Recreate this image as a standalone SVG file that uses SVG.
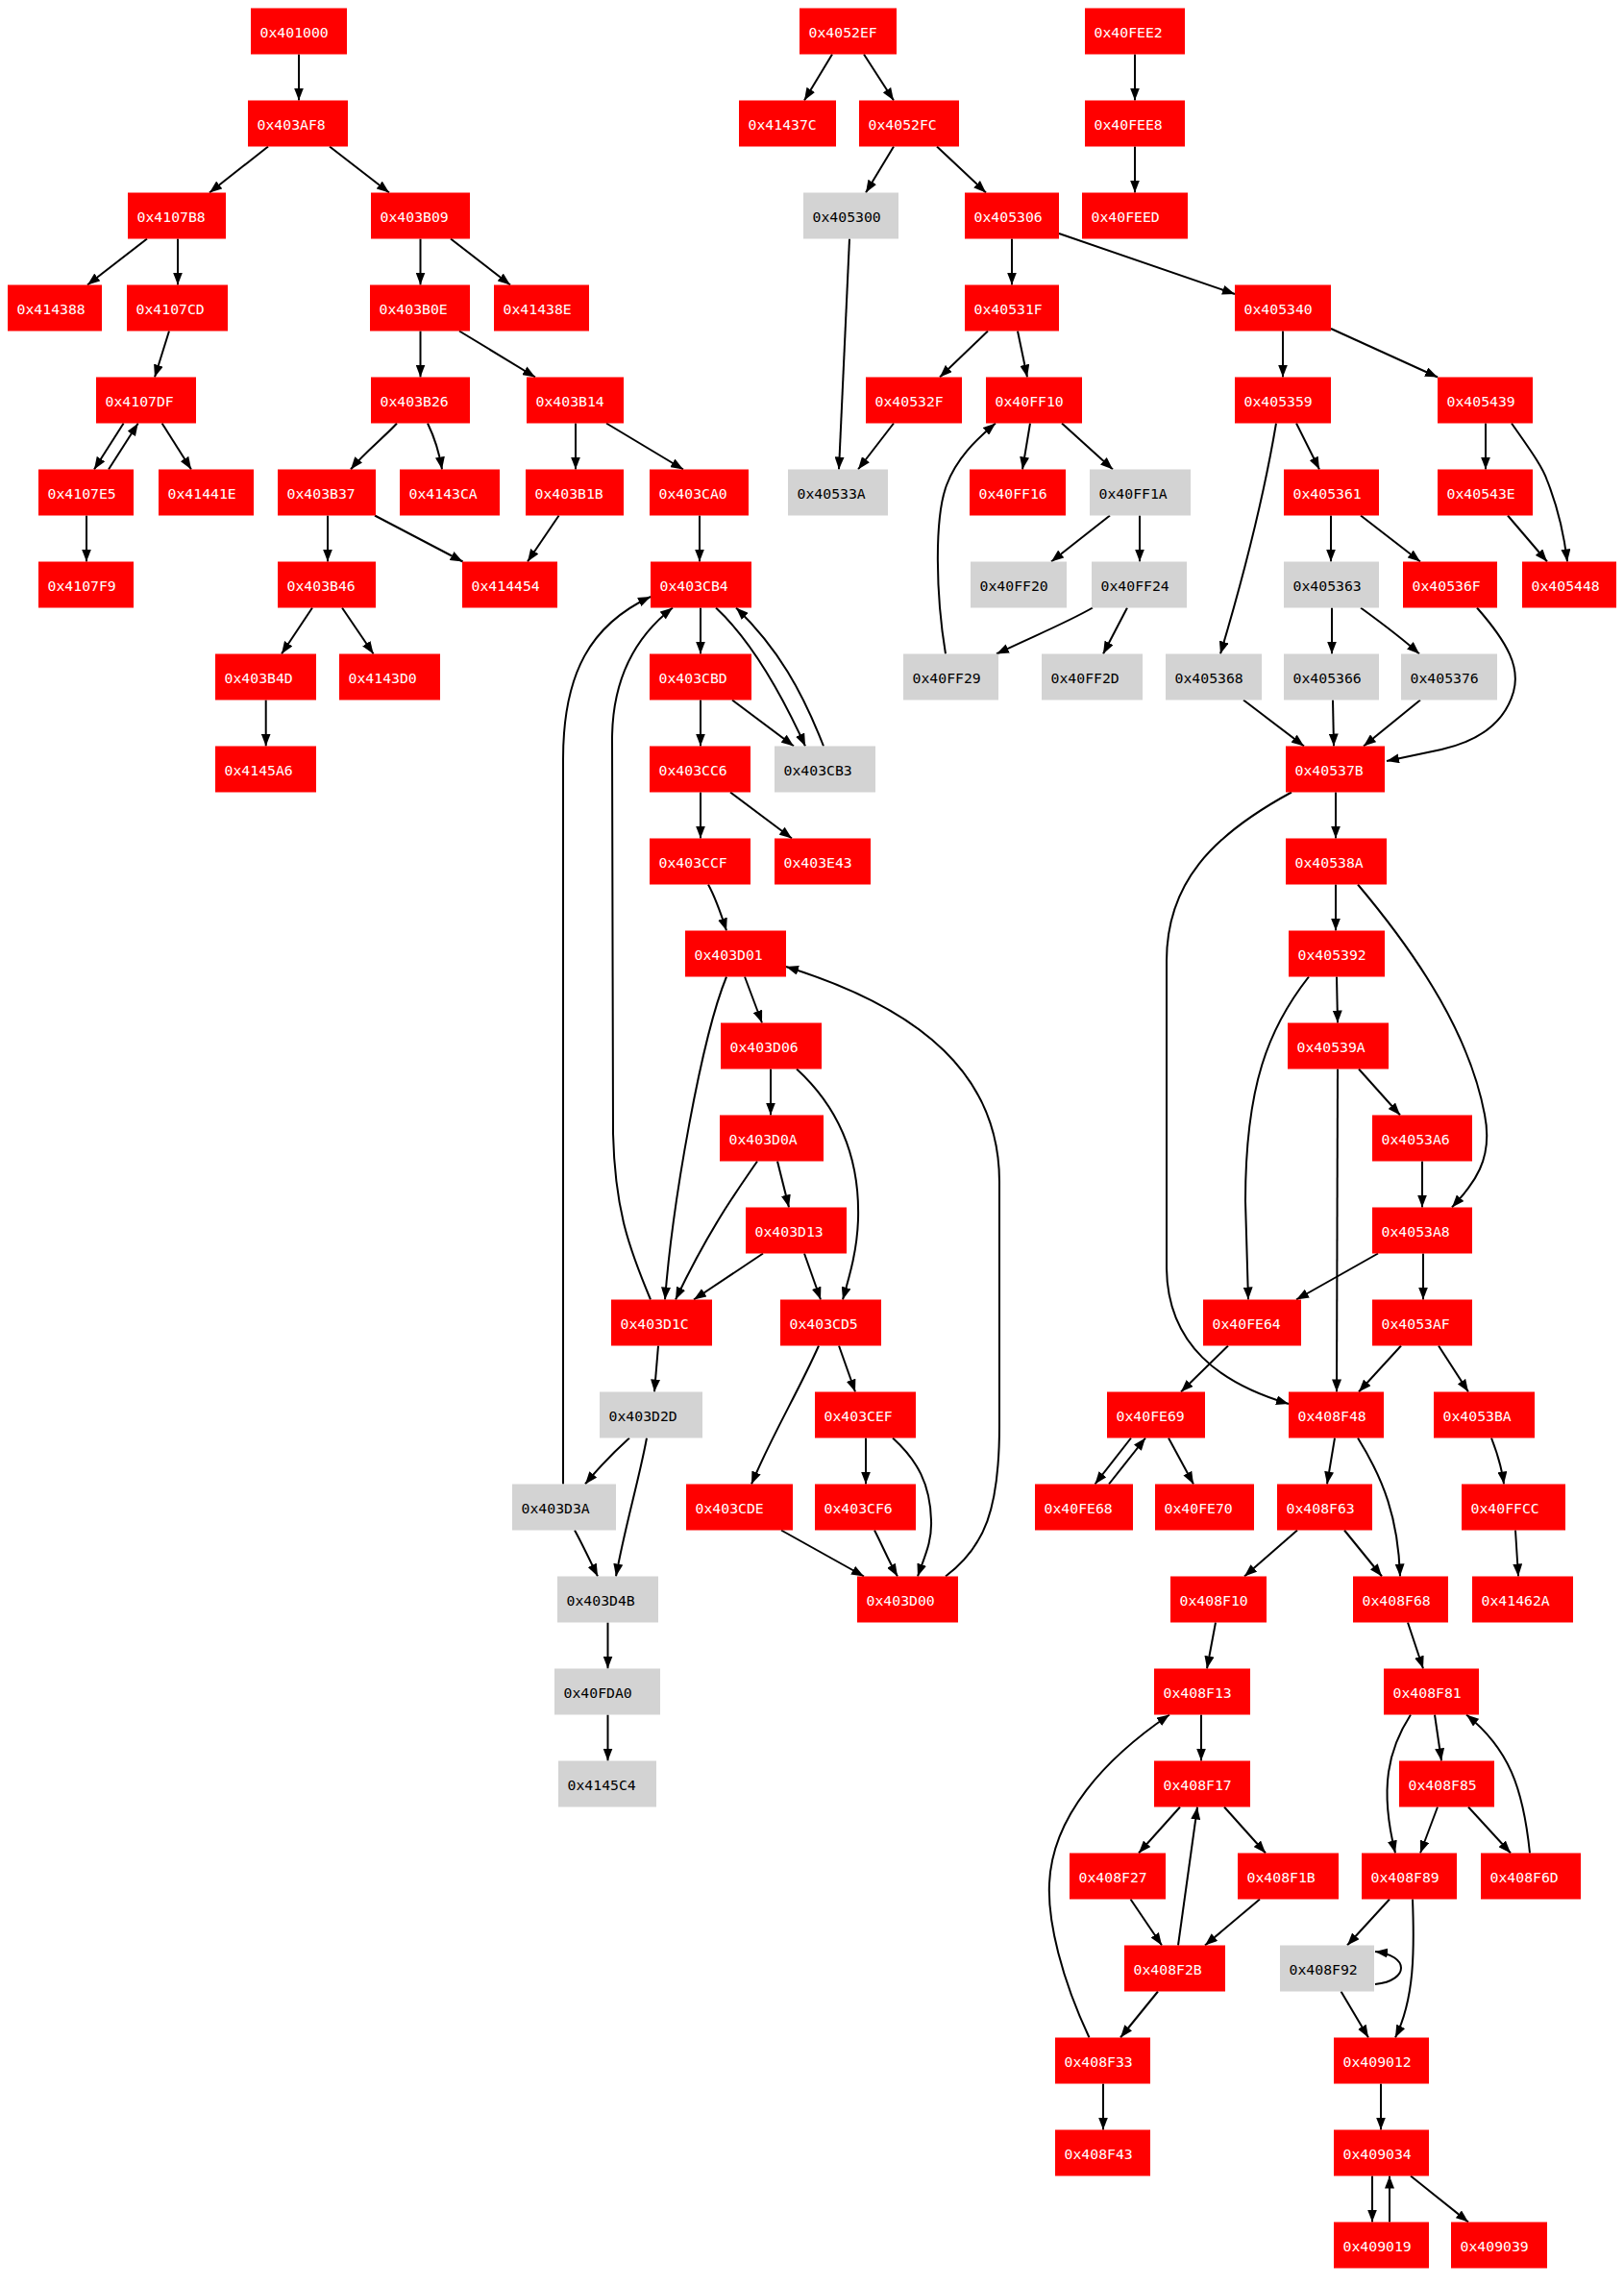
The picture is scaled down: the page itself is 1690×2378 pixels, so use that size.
<svg xmlns="http://www.w3.org/2000/svg" width="1690" height="2378" viewBox="0 0 1690 2378">
<style>
.r{fill:#ff0000}
.g{fill:#d3d3d3}
text{font-family:"DejaVu Sans Mono","Liberation Mono",monospace;font-size:14.8px}
.tw{fill:#ffffff}
.tb{fill:#000000}
#edges path{fill:none;stroke:#000;stroke-width:2;marker-end:url(#ah)}
</style>
<defs>
<marker id="ah" markerUnits="userSpaceOnUse" markerWidth="13" markerHeight="10" refX="13" refY="5" orient="auto">
<path d="M0,0 L13,5 L0,10 z" fill="#000"/>
</marker>
</defs>
<rect width="1690" height="2378" fill="#fff"/>
<g id="edges">
<path d="M311,56.5 L311,104.5"/>
<path d="M279,152.5 L218,200.5"/>
<path d="M343,152.5 L405,200.5"/>
<path d="M153,248.5 L91,296.5"/>
<path d="M185,248.5 L185,296.5"/>
<path d="M437.5,248.5 L437.5,296.5"/>
<path d="M469,248.5 L531,296.5"/>
<path d="M176,344.5 L161,392.5"/>
<path d="M437.5,344.5 L437.5,392.5"/>
<path d="M478,344.5 L557,392.5"/>
<path d="M128.6,440.5 L98,488.5"/>
<path d="M113,488.5 L143.7,440.5"/>
<path d="M168.6,440.5 L199,488.5"/>
<path d="M413,440.5 C400,455 380,470 365,488.5"/>
<path d="M445,440.5 C452,455 457,470 460,488.5"/>
<path d="M599,440.5 L599,488.5"/>
<path d="M631,440.5 L711,488.5"/>
<path d="M90,536.5 L90,584.5"/>
<path d="M341,536.5 L341,584.5"/>
<path d="M390,536.5 L481.6,584.5"/>
<path d="M581.6,536.5 L549,584.5"/>
<path d="M325,632.5 L293,680.5"/>
<path d="M356,632.5 L388.6,680.5"/>
<path d="M276.7,728.5 L276.7,776.5"/>
<path d="M728,536.5 L728,584.5"/>
<path d="M729,632.5 L729,680.5"/>
<path d="M745,632.5 C780,665 810,715 838,776.5"/>
<path d="M857,776.5 C835,720 810,675 766,632.5"/>
<path d="M762,728.5 L826,776.5"/>
<path d="M729,728.5 L729,776.5"/>
<path d="M729,824.5 L729,872.5"/>
<path d="M760,824.5 L824,872.5"/>
<path d="M737,920.5 C745,935 750,950 756,968.5"/>
<path d="M775,1016.5 L793,1064.5"/>
<path d="M756,1016.5 C730,1080 700,1250 692,1352.5"/>
<path d="M802,1112.5 L802,1160.5"/>
<path d="M829,1112.5 C870,1150 895,1200 893,1269 C892,1300 885,1325 877,1352.5"/>
<path d="M788,1208.5 C770,1235 740,1275 703,1352.5"/>
<path d="M809,1208.5 L821,1256.5"/>
<path d="M794,1304.5 L722,1352.5"/>
<path d="M837,1304.5 L854,1352.5"/>
<path d="M677,1352.5 C655,1300 640,1260 638,1180 L637,770 C637,705 662,662 700,632.5"/>
<path d="M586,1544.5 L586,790 C586,700 615,650 677,621"/>
<path d="M685,1400.5 L681,1448.5"/>
<path d="M655,1496.5 C640,1510 625,1525 609,1544.5"/>
<path d="M673,1496.5 C665,1540 650,1590 641,1640.5"/>
<path d="M598,1592.5 C605,1605 612,1620 622,1640.5"/>
<path d="M632.5,1688.5 L632.5,1736.5"/>
<path d="M632.5,1784.5 L632.5,1832.5"/>
<path d="M852,1400.5 C830,1450 805,1490 782,1544.5"/>
<path d="M873,1400.5 L890,1448.5"/>
<path d="M901,1496.5 L901,1544.5"/>
<path d="M929,1496.5 C955,1520 968,1545 969,1582 C970,1605 962,1620 955,1640.5"/>
<path d="M813,1592.5 L899,1640.5"/>
<path d="M910,1592.5 C918,1608 925,1625 934,1640.5"/>
<path d="M984,1640.5 C1025,1610 1040,1570 1040,1484 L1040,1230 C1040,1120 960,1050 818,1006"/>
<path d="M866,56.5 L837,104.5"/>
<path d="M899,56.5 L930,104.5"/>
<path d="M1181,56.5 L1181,104.5"/>
<path d="M1181,152.5 L1181,200.5"/>
<path d="M930,152.5 L901,200.5"/>
<path d="M975,152.5 L1026,200.5"/>
<path d="M884,248.5 L873,488.5"/>
<path d="M1053,248.5 L1053,296.5"/>
<path d="M1102,243 L1285,306"/>
<path d="M1028,344.5 L978,392.5"/>
<path d="M1059,344.5 L1069,392.5"/>
<path d="M1335,344.5 L1335,392.5"/>
<path d="M1385,342 L1496,392.5"/>
<path d="M930,440.5 L893,488.5"/>
<path d="M1072,440.5 L1064,488.5"/>
<path d="M1105,440.5 L1158,488.5"/>
<path d="M984,680.5 C974,620 972,540 985,505 C995,478 1015,458 1036,440.5"/>
<path d="M1328,440.5 C1318,500 1300,580 1270,680.5"/>
<path d="M1349,440.5 L1373,488.5"/>
<path d="M1546,440.5 L1546,488.5"/>
<path d="M1573,440.5 C1590,465 1605,485 1610,500 C1622,530 1628,560 1631,584.5"/>
<path d="M1569,536.5 L1610,584.5"/>
<path d="M1155,536.5 L1094,584.5"/>
<path d="M1186,536.5 L1186,584.5"/>
<path d="M1385,536.5 L1385,584.5"/>
<path d="M1416,536.5 L1478,584.5"/>
<path d="M1137,632.5 C1110,648 1080,660 1037,680.5"/>
<path d="M1173,632.5 L1148,680.5"/>
<path d="M1386,632.5 L1386,680.5"/>
<path d="M1416,632.5 C1440,650 1460,665 1477,680.5"/>
<path d="M1537,632.5 C1570,670 1582,695 1575,720 C1565,755 1535,772 1500,780 L1443,792"/>
<path d="M1294,728.5 L1357,776.5"/>
<path d="M1387,728.5 L1388,776.5"/>
<path d="M1478,728.5 L1419,776.5"/>
<path d="M1390,824.5 L1390,872.5"/>
<path d="M1344,824.5 C1260,870 1214,920 1214,1000 L1214,1320 C1215,1400 1270,1440 1341,1461"/>
<path d="M1390,920.5 L1390,968.5"/>
<path d="M1413,920.5 C1480,1000 1530,1080 1545,1160 C1555,1210 1530,1235 1511,1256.5"/>
<path d="M1391,1016.5 L1392,1064.5"/>
<path d="M1362,1016.5 C1320,1070 1296,1130 1296,1250 L1299,1352.5"/>
<path d="M1392,1112.5 L1391,1448.5"/>
<path d="M1414,1112.5 L1457,1160.5"/>
<path d="M1480,1208.5 L1480,1256.5"/>
<path d="M1434,1304.5 C1410,1318 1380,1335 1349,1352.5"/>
<path d="M1481,1304.5 L1481,1352.5"/>
<path d="M1278,1400.5 L1229,1448.5"/>
<path d="M1458,1400.5 L1414,1448.5"/>
<path d="M1497,1400.5 L1528,1448.5"/>
<path d="M1177,1496.5 L1139.5,1544.5"/>
<path d="M1154,1544.5 L1192,1496.5"/>
<path d="M1216,1496.5 L1242,1544.5"/>
<path d="M1389,1496.5 L1381,1544.5"/>
<path d="M1413,1496.5 C1440,1540 1455,1580 1457,1640.5"/>
<path d="M1552,1496.5 C1558,1512 1563,1528 1565,1544.5"/>
<path d="M1350,1592.5 L1295,1640.5"/>
<path d="M1399,1592.5 L1438,1640.5"/>
<path d="M1577,1592.5 L1580,1640.5"/>
<path d="M1265,1688.5 L1256,1736.5"/>
<path d="M1465,1688.5 L1481,1736.5"/>
<path d="M1250,1784.5 L1250,1832.5"/>
<path d="M1133.5,2120.5 C1105,2060 1090,2000 1092,1960 C1095,1890 1150,1830 1217,1784.5"/>
<path d="M1228,1880.5 L1185,1928.5"/>
<path d="M1274,1880.5 L1317,1928.5"/>
<path d="M1226,2024.5 L1246,1880.5"/>
<path d="M1176.5,1976.5 L1209,2024.5"/>
<path d="M1311,1976.5 L1254,2024.5"/>
<path d="M1205,2072.5 L1166,2120.5"/>
<path d="M1148,2168.5 L1148,2216.5"/>
<path d="M1468,1784.5 C1445,1820 1435,1860 1452,1928.5"/>
<path d="M1493,1784.5 L1500,1832.5"/>
<path d="M1592,1928.5 C1585,1860 1570,1820 1526,1784.5"/>
<path d="M1496,1880.5 L1478,1928.5"/>
<path d="M1528,1880.5 L1572,1928.5"/>
<path d="M1446,1976.5 L1402,2024.5"/>
<path d="M1470,1976.5 C1472,2030 1472,2080 1452,2120.5"/>
<path d="M1431,2065 C1450,2063 1458,2055 1458,2048 C1458,2040 1448,2033 1431,2031"/>
<path d="M1395.5,2072.5 L1424,2120.5"/>
<path d="M1437,2168.5 L1437,2216.5"/>
<path d="M1428,2264.5 L1428,2312.5"/>
<path d="M1446,2312.5 L1446,2264.5"/>
<path d="M1468,2264.5 L1528,2312.5"/>
</g>
<g id="n401000"><rect class="r" x="261" y="8.5" width="100" height="48"/><text class="tw" x="270.5" y="38.5">0x401000</text></g>
<g id="n4052EF"><rect class="r" x="832" y="8.5" width="101" height="48"/><text class="tw" x="841.5" y="38.5">0x4052EF</text></g>
<g id="n40FEE2"><rect class="r" x="1129" y="8.5" width="104" height="48"/><text class="tw" x="1138.5" y="38.5">0x40FEE2</text></g>
<g id="n403AF8"><rect class="r" x="258" y="104.5" width="104" height="48"/><text class="tw" x="267.5" y="134.5">0x403AF8</text></g>
<g id="n41437C"><rect class="r" x="769" y="104.5" width="101" height="48"/><text class="tw" x="778.5" y="134.5">0x41437C</text></g>
<g id="n4052FC"><rect class="r" x="894" y="104.5" width="104" height="48"/><text class="tw" x="903.5" y="134.5">0x4052FC</text></g>
<g id="n40FEE8"><rect class="r" x="1129" y="104.5" width="104" height="48"/><text class="tw" x="1138.5" y="134.5">0x40FEE8</text></g>
<g id="n4107B8"><rect class="r" x="133" y="200.5" width="102" height="48"/><text class="tw" x="142.5" y="230.5">0x4107B8</text></g>
<g id="n403B09"><rect class="r" x="386" y="200.5" width="103" height="48"/><text class="tw" x="395.5" y="230.5">0x403B09</text></g>
<g id="n405300"><rect class="g" x="836" y="200.5" width="99" height="48"/><text class="tb" x="845.5" y="230.5">0x405300</text></g>
<g id="n405306"><rect class="r" x="1004" y="200.5" width="98" height="48"/><text class="tw" x="1013.5" y="230.5">0x405306</text></g>
<g id="n40FEED"><rect class="r" x="1126" y="200.5" width="110" height="48"/><text class="tw" x="1135.5" y="230.5">0x40FEED</text></g>
<g id="n414388"><rect class="r" x="8" y="296.5" width="98" height="48"/><text class="tw" x="17.5" y="326.5">0x414388</text></g>
<g id="n4107CD"><rect class="r" x="132" y="296.5" width="105" height="48"/><text class="tw" x="141.5" y="326.5">0x4107CD</text></g>
<g id="n403B0E"><rect class="r" x="385" y="296.5" width="104" height="48"/><text class="tw" x="394.5" y="326.5">0x403B0E</text></g>
<g id="n41438E"><rect class="r" x="514" y="296.5" width="99" height="48"/><text class="tw" x="523.5" y="326.5">0x41438E</text></g>
<g id="n40531F"><rect class="r" x="1004" y="296.5" width="98" height="48"/><text class="tw" x="1013.5" y="326.5">0x40531F</text></g>
<g id="n405340"><rect class="r" x="1285" y="296.5" width="100" height="48"/><text class="tw" x="1294.5" y="326.5">0x405340</text></g>
<g id="n4107DF"><rect class="r" x="100" y="392.5" width="104" height="48"/><text class="tw" x="109.5" y="422.5">0x4107DF</text></g>
<g id="n403B26"><rect class="r" x="386" y="392.5" width="103" height="48"/><text class="tw" x="395.5" y="422.5">0x403B26</text></g>
<g id="n403B14"><rect class="r" x="548" y="392.5" width="101" height="48"/><text class="tw" x="557.5" y="422.5">0x403B14</text></g>
<g id="n40532F"><rect class="r" x="901" y="392.5" width="100" height="48"/><text class="tw" x="910.5" y="422.5">0x40532F</text></g>
<g id="n40FF10"><rect class="r" x="1026" y="392.5" width="100" height="48"/><text class="tw" x="1035.5" y="422.5">0x40FF10</text></g>
<g id="n405359"><rect class="r" x="1285" y="392.5" width="100" height="48"/><text class="tw" x="1294.5" y="422.5">0x405359</text></g>
<g id="n405439"><rect class="r" x="1496" y="392.5" width="99" height="48"/><text class="tw" x="1505.5" y="422.5">0x405439</text></g>
<g id="n4107E5"><rect class="r" x="40" y="488.5" width="99" height="48"/><text class="tw" x="49.5" y="518.5">0x4107E5</text></g>
<g id="n41441E"><rect class="r" x="165" y="488.5" width="99" height="48"/><text class="tw" x="174.5" y="518.5">0x41441E</text></g>
<g id="n403B37"><rect class="r" x="289" y="488.5" width="102" height="48"/><text class="tw" x="298.5" y="518.5">0x403B37</text></g>
<g id="n4143CA"><rect class="r" x="416" y="488.5" width="104" height="48"/><text class="tw" x="425.5" y="518.5">0x4143CA</text></g>
<g id="n403B1B"><rect class="r" x="547" y="488.5" width="102" height="48"/><text class="tw" x="556.5" y="518.5">0x403B1B</text></g>
<g id="n403CA0"><rect class="r" x="676" y="488.5" width="103" height="48"/><text class="tw" x="685.5" y="518.5">0x403CA0</text></g>
<g id="n40533A"><rect class="g" x="820" y="488.5" width="104" height="48"/><text class="tb" x="829.5" y="518.5">0x40533A</text></g>
<g id="n40FF16"><rect class="r" x="1009" y="488.5" width="100" height="48"/><text class="tw" x="1018.5" y="518.5">0x40FF16</text></g>
<g id="n40FF1A"><rect class="g" x="1134" y="488.5" width="105" height="48"/><text class="tb" x="1143.5" y="518.5">0x40FF1A</text></g>
<g id="n405361"><rect class="r" x="1336" y="488.5" width="99" height="48"/><text class="tw" x="1345.5" y="518.5">0x405361</text></g>
<g id="n40543E"><rect class="r" x="1496" y="488.5" width="99" height="48"/><text class="tw" x="1505.5" y="518.5">0x40543E</text></g>
<g id="n4107F9"><rect class="r" x="40" y="584.5" width="99" height="48"/><text class="tw" x="49.5" y="614.5">0x4107F9</text></g>
<g id="n403B46"><rect class="r" x="289" y="584.5" width="102" height="48"/><text class="tw" x="298.5" y="614.5">0x403B46</text></g>
<g id="n414454"><rect class="r" x="481" y="584.5" width="99" height="48"/><text class="tw" x="490.5" y="614.5">0x414454</text></g>
<g id="n403CB4"><rect class="r" x="677" y="584.5" width="105" height="48"/><text class="tw" x="686.5" y="614.5">0x403CB4</text></g>
<g id="n40FF20"><rect class="g" x="1010" y="584.5" width="100" height="48"/><text class="tb" x="1019.5" y="614.5">0x40FF20</text></g>
<g id="n40FF24"><rect class="g" x="1136" y="584.5" width="99" height="48"/><text class="tb" x="1145.5" y="614.5">0x40FF24</text></g>
<g id="n405363"><rect class="g" x="1336" y="584.5" width="99" height="48"/><text class="tb" x="1345.5" y="614.5">0x405363</text></g>
<g id="n40536F"><rect class="r" x="1460" y="584.5" width="98" height="48"/><text class="tw" x="1469.5" y="614.5">0x40536F</text></g>
<g id="n405448"><rect class="r" x="1584" y="584.5" width="98" height="48"/><text class="tw" x="1593.5" y="614.5">0x405448</text></g>
<g id="n403B4D"><rect class="r" x="224" y="680.5" width="105" height="48"/><text class="tw" x="233.5" y="710.5">0x403B4D</text></g>
<g id="n4143D0"><rect class="r" x="353" y="680.5" width="105" height="48"/><text class="tw" x="362.5" y="710.5">0x4143D0</text></g>
<g id="n403CBD"><rect class="r" x="676" y="680.5" width="106" height="48"/><text class="tw" x="685.5" y="710.5">0x403CBD</text></g>
<g id="n40FF29"><rect class="g" x="940" y="680.5" width="99" height="48"/><text class="tb" x="949.5" y="710.5">0x40FF29</text></g>
<g id="n40FF2D"><rect class="g" x="1084" y="680.5" width="105" height="48"/><text class="tb" x="1093.5" y="710.5">0x40FF2D</text></g>
<g id="n405368"><rect class="g" x="1213" y="680.5" width="100" height="48"/><text class="tb" x="1222.5" y="710.5">0x405368</text></g>
<g id="n405366"><rect class="g" x="1336" y="680.5" width="99" height="48"/><text class="tb" x="1345.5" y="710.5">0x405366</text></g>
<g id="n405376"><rect class="g" x="1458" y="680.5" width="100" height="48"/><text class="tb" x="1467.5" y="710.5">0x405376</text></g>
<g id="n4145A6"><rect class="r" x="224" y="776.5" width="105" height="48"/><text class="tw" x="233.5" y="806.5">0x4145A6</text></g>
<g id="n403CC6"><rect class="r" x="676" y="776.5" width="105" height="48"/><text class="tw" x="685.5" y="806.5">0x403CC6</text></g>
<g id="n403CB3"><rect class="g" x="806" y="776.5" width="105" height="48"/><text class="tb" x="815.5" y="806.5">0x403CB3</text></g>
<g id="n40537B"><rect class="r" x="1338" y="776.5" width="103" height="48"/><text class="tw" x="1347.5" y="806.5">0x40537B</text></g>
<g id="n403CCF"><rect class="r" x="676" y="872.5" width="105" height="48"/><text class="tw" x="685.5" y="902.5">0x403CCF</text></g>
<g id="n403E43"><rect class="r" x="806" y="872.5" width="100" height="48"/><text class="tw" x="815.5" y="902.5">0x403E43</text></g>
<g id="n40538A"><rect class="r" x="1338" y="872.5" width="105" height="48"/><text class="tw" x="1347.5" y="902.5">0x40538A</text></g>
<g id="n403D01"><rect class="r" x="713" y="968.5" width="105" height="48"/><text class="tw" x="722.5" y="998.5">0x403D01</text></g>
<g id="n405392"><rect class="r" x="1341" y="968.5" width="100" height="48"/><text class="tw" x="1350.5" y="998.5">0x405392</text></g>
<g id="n403D06"><rect class="r" x="750" y="1064.5" width="105" height="48"/><text class="tw" x="759.5" y="1094.5">0x403D06</text></g>
<g id="n40539A"><rect class="r" x="1340" y="1064.5" width="105" height="48"/><text class="tw" x="1349.5" y="1094.5">0x40539A</text></g>
<g id="n403D0A"><rect class="r" x="749" y="1160.5" width="108" height="48"/><text class="tw" x="758.5" y="1190.5">0x403D0A</text></g>
<g id="n4053A6"><rect class="r" x="1428" y="1160.5" width="104" height="48"/><text class="tw" x="1437.5" y="1190.5">0x4053A6</text></g>
<g id="n403D13"><rect class="r" x="776" y="1256.5" width="105" height="48"/><text class="tw" x="785.5" y="1286.5">0x403D13</text></g>
<g id="n4053A8"><rect class="r" x="1428" y="1256.5" width="104" height="48"/><text class="tw" x="1437.5" y="1286.5">0x4053A8</text></g>
<g id="n403D1C"><rect class="r" x="636" y="1352.5" width="105" height="48"/><text class="tw" x="645.5" y="1382.5">0x403D1C</text></g>
<g id="n403CD5"><rect class="r" x="812" y="1352.5" width="105" height="48"/><text class="tw" x="821.5" y="1382.5">0x403CD5</text></g>
<g id="n40FE64"><rect class="r" x="1252" y="1352.5" width="102" height="48"/><text class="tw" x="1261.5" y="1382.5">0x40FE64</text></g>
<g id="n4053AF"><rect class="r" x="1428" y="1352.5" width="104" height="48"/><text class="tw" x="1437.5" y="1382.5">0x4053AF</text></g>
<g id="n403D2D"><rect class="g" x="624" y="1448.5" width="107" height="48"/><text class="tb" x="633.5" y="1478.5">0x403D2D</text></g>
<g id="n403CEF"><rect class="r" x="848" y="1448.5" width="105" height="48"/><text class="tw" x="857.5" y="1478.5">0x403CEF</text></g>
<g id="n40FE69"><rect class="r" x="1152" y="1448.5" width="102" height="48"/><text class="tw" x="1161.5" y="1478.5">0x40FE69</text></g>
<g id="n408F48"><rect class="r" x="1341" y="1448.5" width="99" height="48"/><text class="tw" x="1350.5" y="1478.5">0x408F48</text></g>
<g id="n4053BA"><rect class="r" x="1492" y="1448.5" width="105" height="48"/><text class="tw" x="1501.5" y="1478.5">0x4053BA</text></g>
<g id="n403D3A"><rect class="g" x="533" y="1544.5" width="108" height="48"/><text class="tb" x="542.5" y="1574.5">0x403D3A</text></g>
<g id="n403CDE"><rect class="r" x="714" y="1544.5" width="111" height="48"/><text class="tw" x="723.5" y="1574.5">0x403CDE</text></g>
<g id="n403CF6"><rect class="r" x="848" y="1544.5" width="105" height="48"/><text class="tw" x="857.5" y="1574.5">0x403CF6</text></g>
<g id="n40FE68"><rect class="r" x="1077" y="1544.5" width="102" height="48"/><text class="tw" x="1086.5" y="1574.5">0x40FE68</text></g>
<g id="n40FE70"><rect class="r" x="1202" y="1544.5" width="103" height="48"/><text class="tw" x="1211.5" y="1574.5">0x40FE70</text></g>
<g id="n408F63"><rect class="r" x="1329" y="1544.5" width="99" height="48"/><text class="tw" x="1338.5" y="1574.5">0x408F63</text></g>
<g id="n40FFCC"><rect class="r" x="1521" y="1544.5" width="108" height="48"/><text class="tw" x="1530.5" y="1574.5">0x40FFCC</text></g>
<g id="n403D4B"><rect class="g" x="580" y="1640.5" width="105" height="48"/><text class="tb" x="589.5" y="1670.5">0x403D4B</text></g>
<g id="n403D00"><rect class="r" x="892" y="1640.5" width="105" height="48"/><text class="tw" x="901.5" y="1670.5">0x403D00</text></g>
<g id="n408F10"><rect class="r" x="1218" y="1640.5" width="100" height="48"/><text class="tw" x="1227.5" y="1670.5">0x408F10</text></g>
<g id="n408F68"><rect class="r" x="1408" y="1640.5" width="99" height="48"/><text class="tw" x="1417.5" y="1670.5">0x408F68</text></g>
<g id="n41462A"><rect class="r" x="1532" y="1640.5" width="105" height="48"/><text class="tw" x="1541.5" y="1670.5">0x41462A</text></g>
<g id="n40FDA0"><rect class="g" x="577" y="1736.5" width="110" height="48"/><text class="tb" x="586.5" y="1766.5">0x40FDA0</text></g>
<g id="n408F13"><rect class="r" x="1201" y="1736.5" width="100" height="48"/><text class="tw" x="1210.5" y="1766.5">0x408F13</text></g>
<g id="n408F81"><rect class="r" x="1440" y="1736.5" width="99" height="48"/><text class="tw" x="1449.5" y="1766.5">0x408F81</text></g>
<g id="n4145C4"><rect class="g" x="581" y="1832.5" width="102" height="48"/><text class="tb" x="590.5" y="1862.5">0x4145C4</text></g>
<g id="n408F17"><rect class="r" x="1201" y="1832.5" width="100" height="48"/><text class="tw" x="1210.5" y="1862.5">0x408F17</text></g>
<g id="n408F85"><rect class="r" x="1456" y="1832.5" width="99" height="48"/><text class="tw" x="1465.5" y="1862.5">0x408F85</text></g>
<g id="n408F27"><rect class="r" x="1113" y="1928.5" width="100" height="48"/><text class="tw" x="1122.5" y="1958.5">0x408F27</text></g>
<g id="n408F1B"><rect class="r" x="1288" y="1928.5" width="105" height="48"/><text class="tw" x="1297.5" y="1958.5">0x408F1B</text></g>
<g id="n408F89"><rect class="r" x="1417" y="1928.5" width="99" height="48"/><text class="tw" x="1426.5" y="1958.5">0x408F89</text></g>
<g id="n408F6D"><rect class="r" x="1541" y="1928.5" width="104" height="48"/><text class="tw" x="1550.5" y="1958.5">0x408F6D</text></g>
<g id="n408F2B"><rect class="r" x="1170" y="2024.5" width="105" height="48"/><text class="tw" x="1179.5" y="2054.5">0x408F2B</text></g>
<g id="n408F92"><rect class="g" x="1332" y="2024.5" width="98" height="48"/><text class="tb" x="1341.5" y="2054.5">0x408F92</text></g>
<g id="n408F33"><rect class="r" x="1098" y="2120.5" width="99" height="48"/><text class="tw" x="1107.5" y="2150.5">0x408F33</text></g>
<g id="n409012"><rect class="r" x="1388" y="2120.5" width="99" height="48"/><text class="tw" x="1397.5" y="2150.5">0x409012</text></g>
<g id="n408F43"><rect class="r" x="1098" y="2216.5" width="99" height="48"/><text class="tw" x="1107.5" y="2246.5">0x408F43</text></g>
<g id="n409034"><rect class="r" x="1388" y="2216.5" width="99" height="48"/><text class="tw" x="1397.5" y="2246.5">0x409034</text></g>
<g id="n409019"><rect class="r" x="1388" y="2312.5" width="99" height="48"/><text class="tw" x="1397.5" y="2342.5">0x409019</text></g>
<g id="n409039"><rect class="r" x="1510" y="2312.5" width="100" height="48"/><text class="tw" x="1519.5" y="2342.5">0x409039</text></g>
</svg>
